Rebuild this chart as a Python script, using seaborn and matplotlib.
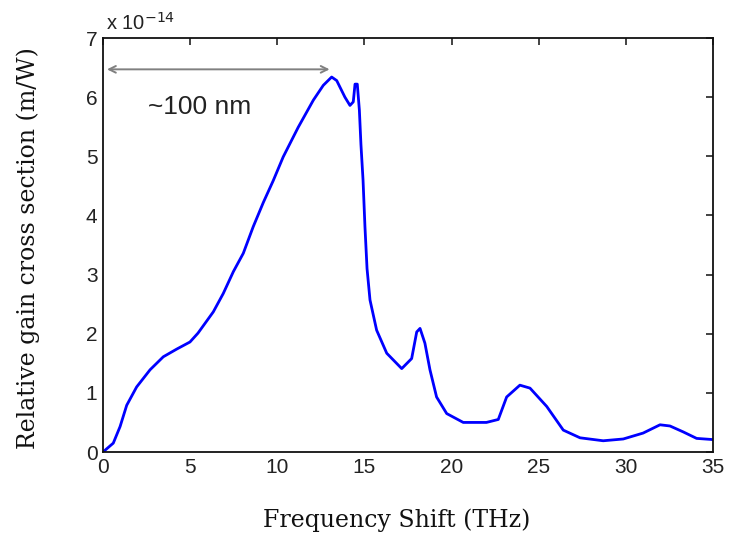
import matplotlib
matplotlib.use("Agg")
import matplotlib.pyplot as plt
import seaborn as sns
import pandas as pd

# Frequency shift (THz) and relative gain cross section (x 1e-14 m/W)
freq_thz = [0.0, 0.59, 0.98, 1.36, 1.93, 2.70, 3.46, 4.23, 4.99, 5.45, 6.33, 6.9,
            7.48, 8.05, 8.62, 9.2, 9.77, 10.34, 11.2, 12.07, 12.64, 13.12, 13.41,
            13.88, 14.17, 14.36, 14.46, 14.59, 14.71, 14.80, 14.92, 15.03, 15.15,
            15.32, 15.70, 16.28, 17.14, 17.71, 18.0, 18.19, 18.47, 18.76, 19.14,
            19.72, 20.67, 21.53, 22.0, 22.68, 23.16, 23.92, 24.5, 25.46, 26.41,
            27.37, 28.70, 29.85, 30.99, 31.96, 32.53, 33.29, 34.06, 35.0]
gain_e14 = [0.0, 0.15, 0.43, 0.79, 1.10, 1.39, 1.61, 1.74, 1.86, 2.01, 2.37, 2.68,
            3.05, 3.36, 3.81, 4.22, 4.59, 4.99, 5.49, 5.95, 6.20, 6.34, 6.28,
            6.00, 5.86, 5.92, 6.22, 6.22, 5.78, 5.20, 4.60, 3.81, 3.10,
            2.57, 2.06, 1.67, 1.41, 1.58, 2.03, 2.09, 1.84, 1.39, 0.93,
            0.65, 0.50, 0.50, 0.50, 0.55, 0.93, 1.13, 1.08, 0.77, 0.37,
            0.24, 0.19, 0.22, 0.32, 0.46, 0.44, 0.34, 0.23, 0.21]

x_ticks = [0, 5, 10, 15, 20, 25, 30, 35]
y_ticks = [0, 1, 2, 3, 4, 5, 6, 7]
x_label = "Frequency Shift (THz)"
y_label = "Relative gain cross section (m/W)"
annotation = "~100 nm"
arrow_span = [0.23, 13.0]
arrow_y = 6.47

sns.set_style("white")
plt.rcParams["font.family"] = ["Liberation Sans", "DejaVu Sans"]

df = pd.DataFrame({"freq": freq_thz, "gain": gain_e14})

fig = plt.figure(figsize=(7.29, 5.39), dpi=100)
ax = fig.add_axes([103/729, 1 - 452/539, 610/729, 414/539])
sns.lineplot(data=df, x="freq", y="gain", ax=ax, color="#0000ff", linewidth=2.0, sort=False)
ax.lines[0].set_solid_joinstyle("round")

ax.set_xlim(0, 35)
ax.set_ylim(0, 7)
ax.set_xticks(x_ticks)
ax.set_yticks(y_ticks)
ax.set_xticklabels([str(t) for t in x_ticks])
ax.set_yticklabels([str(t) for t in y_ticks])
ax.tick_params(direction="in", length=5, width=1.2, top=True, right=True,
               labelsize=15, colors="#222222", pad=4)
for sp in ax.spines.values():
    sp.set_visible(True)
    sp.set_color("#111111")
    sp.set_linewidth(1.3)

serif = ["DejaVu Serif"]
ax.set_xlabel(x_label, family=serif, fontsize=17, color="#111111")
ax.xaxis.set_label_coords(0.482, (452 - 508) / 414)
ax.set_ylabel(y_label, family=serif, fontsize=17, color="#111111")
ax.yaxis.set_label_coords((40 - 103) / 610, (452 - 248) / 414)

ax.text(0.005, 1.01, r"x 10$^{-14}$", transform=ax.transAxes, fontsize=14.5, ha="left",
        va="bottom", color="#222222")

ax.annotate("", xy=(arrow_span[1], arrow_y), xytext=(arrow_span[0], arrow_y),
            arrowprops=dict(arrowstyle="<->", color="#808080", lw=1.4,
                            shrinkA=0, shrinkB=0, mutation_scale=12))
ax.text(2.58, 5.83, annotation, fontsize=19, ha="left", va="center", color="#222222")

fig.savefig("out.png", dpi=100)
